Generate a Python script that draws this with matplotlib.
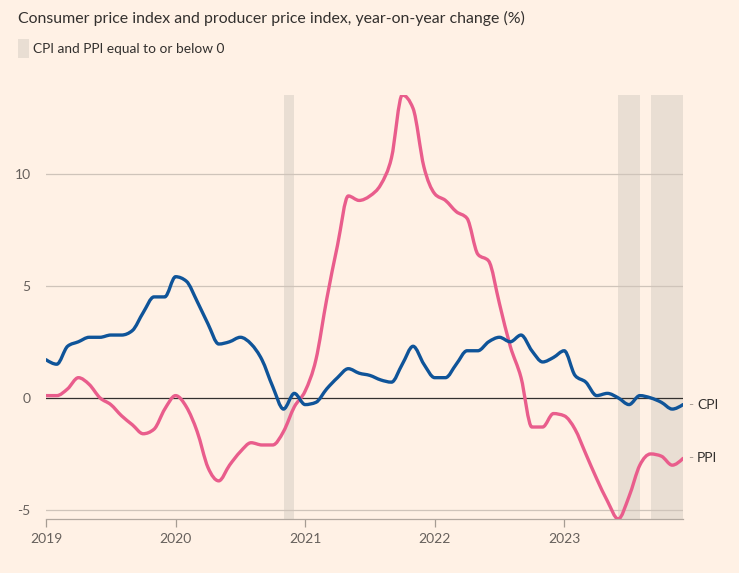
import numpy as np
import matplotlib
matplotlib.use("Agg")
import matplotlib.pyplot as plt
from matplotlib.path import Path
from matplotlib.patches import PathPatch

# China CPI / PPI, year-on-year change (%), monthly Jan 2019 - Dec 2023
cpi = [1.7, 1.5, 2.3, 2.5, 2.7, 2.7, 2.8, 2.8, 3.0, 3.8, 4.5, 4.5,
       5.4, 5.2, 4.3, 3.3, 2.4, 2.5, 2.7, 2.4, 1.7, 0.5, -0.5, 0.2,
       -0.3, -0.2, 0.4, 0.9, 1.3, 1.1, 1.0, 0.8, 0.7, 1.5, 2.3, 1.5,
       0.9, 0.9, 1.5, 2.1, 2.1, 2.5, 2.7, 2.5, 2.8, 2.1, 1.6, 1.8,
       2.1, 1.0, 0.7, 0.1, 0.2, 0.0, -0.3, 0.1, 0.0, -0.2, -0.5, -0.3]
ppi = [0.1, 0.1, 0.4, 0.9, 0.6, 0.0, -0.3, -0.8, -1.2, -1.6, -1.4, -0.5,
       0.1, -0.4, -1.5, -3.1, -3.7, -3.0, -2.4, -2.0, -2.1, -2.1, -1.5, -0.4,
       0.3, 1.7, 4.4, 6.8, 9.0, 8.8, 9.0, 9.5, 10.7, 13.5, 12.9, 10.3,
       9.1, 8.8, 8.3, 8.0, 6.4, 6.1, 4.2, 2.3, 0.9, -1.3, -1.3, -0.7,
       -0.8, -1.4, -2.5, -3.6, -4.6, -5.4, -4.4, -3.0, -2.5, -2.6, -3.0, -2.7]
years = [2019, 2020, 2021, 2022, 2023]
yticks = [-5, 0, 5, 10]

BG = "#fff1e5"
BLUE = "#0f5499"
PINK = "#e95d8c"
SHADE = "#e9ded3"
TXT = "#33302e"
MUTED = "#66605c"
GRID = "#cfc4ba"

months = np.array([2019 + i / 12 for i in range(len(cpi))])


def monotone_path(x, y):
    # same idea as d3 curveMonotoneX: cubic bezier segments
    x = np.asarray(x, float)
    y = np.asarray(y, float)
    n = len(x)
    t = np.zeros(n)
    for i in range(1, n - 1):
        h0, h1 = x[i] - x[i - 1], x[i + 1] - x[i]
        s0, s1 = (y[i] - y[i - 1]) / h0, (y[i + 1] - y[i]) / h1
        p = (s0 * h1 + s1 * h0) / (h0 + h1)
        t[i] = (np.sign(s0) + np.sign(s1)) * min(abs(s0), abs(s1), 0.5 * abs(p))
    h = x[1] - x[0]
    t[0] = (3 * (y[1] - y[0]) / h - t[1]) / 2
    h = x[-1] - x[-2]
    t[-1] = (3 * (y[-1] - y[-2]) / h - t[-2]) / 2
    verts = [(x[0], y[0])]
    codes = [Path.MOVETO]
    for i in range(n - 1):
        dx = (x[i + 1] - x[i]) / 3
        verts += [(x[i] + dx, y[i] + t[i] * dx),
                  (x[i + 1] - dx, y[i + 1] - t[i + 1] * dx),
                  (x[i + 1], y[i + 1])]
        codes += [Path.CURVE4] * 3
    return Path(verts, codes)


plt.rcParams['font.family'] = ['Lato', 'DejaVu Sans']

fig = plt.figure(figsize=(7.39, 5.73), dpi=100, facecolor=BG)
ax = fig.add_axes([46 / 739, 54 / 573, 637 / 739, 424 / 573])
ax.set_facecolor(BG)

xmin, xmax = months[0], months[-1]
ax.set_xlim(xmin, xmax)
ax.set_ylim(min(ppi), max(ppi))

# shading where both CPI and PPI are <= 0
for i, (c, p) in enumerate(zip(cpi, ppi)):
    if c <= 0 and p <= 0:
        ax.axvspan(months[i], min(months[i] + 1 / 12, xmax), color=SHADE, lw=0, zorder=0)

for v in yticks:
    if v == 0:
        ax.axhline(v, color=TXT, lw=0.9, zorder=1)
    else:
        ax.axhline(v, color=GRID, lw=0.9, zorder=1)

for vals, col in [(ppi, PINK), (cpi, BLUE)]:
    ax.add_patch(PathPatch(monotone_path(months, vals), facecolor="none",
                           edgecolor=col, lw=2.4, capstyle="round",
                           joinstyle="round", zorder=3))

ax.set_yticks(yticks)
ax.set_yticklabels([str(v) for v in yticks])
ax.set_xticks(years)
ax.set_xticklabels([str(y) for y in years])
ax.tick_params(axis='y', length=0, pad=11, labelsize=10, labelcolor=MUTED)
ax.tick_params(axis='x', length=6, width=0.9, color="#a69c93", pad=4,
               labelsize=10, labelcolor=MUTED)
for s in ['top', 'right', 'left']:
    ax.spines[s].set_visible(False)
ax.spines['bottom'].set_color("#b3a9a0")
ax.spines['bottom'].set_linewidth(0.9)

for vals, name in [(cpi, "CPI"), (ppi, "PPI")]:
    ax.annotate("-", (xmax, vals[-1]), xytext=(4, 0), textcoords="offset points",
                va="center", ha="left", color="#a69c93", fontsize=10,
                annotation_clip=False)
    ax.annotate(name, (xmax, vals[-1]), xytext=(10, 0), textcoords="offset points",
                va="center", ha="left", color=TXT, fontsize=10,
                annotation_clip=False)

fig.text(18 / 739, 1 - 18 / 573, "Consumer price index and producer price index, year-on-year change (%)",
         ha="left", va="center", fontsize=11.4, color=TXT)
fig.patches.append(plt.Rectangle((18 / 739, 1 - 58 / 573), 11 / 739, 19 / 573,
                                 transform=fig.transFigure, facecolor=SHADE, lw=0))
fig.text(33 / 739, 1 - 49 / 573, "CPI and PPI equal to or below 0",
         ha="left", va="center", fontsize=9.95, color=TXT)

fig.savefig("out.png", dpi=100, facecolor=BG)
